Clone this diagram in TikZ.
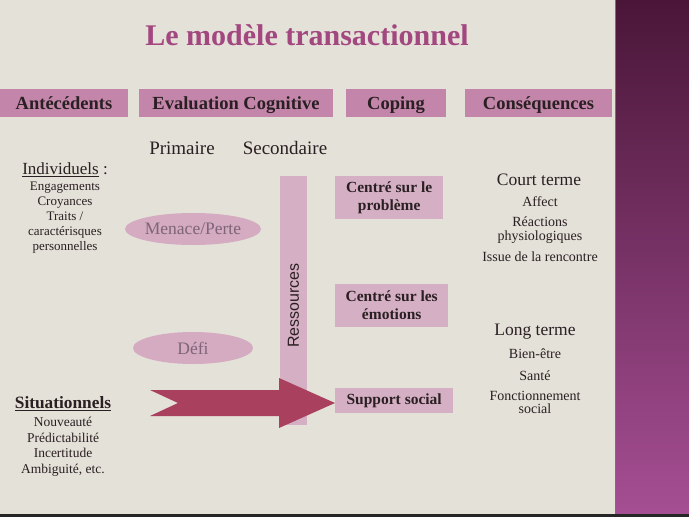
\documentclass[tikz,border=0pt]{standalone}
\usepackage{fontspec}
\setmainfont{Liberation Serif}
\setsansfont{Liberation Sans}
\usepackage{tikz}
\usetikzlibrary{positioning,calc,shapes.geometric}
\definecolor{slidebg}{HTML}{E4E1D8}
\definecolor{titlepink}{HTML}{A2477F}
\definecolor{headpink}{HTML}{C386AA}
\definecolor{softpink}{HTML}{D5B0C4}
\definecolor{ovalpink}{HTML}{D4ABC1}
\definecolor{ovalink}{HTML}{7E6577}
\definecolor{arrowred}{HTML}{A8405E}
\definecolor{inkdark}{HTML}{2A1F22}
\definecolor{stripdark}{HTML}{4A1638}
\definecolor{striplight}{HTML}{A64F94}
\newcommand{\fs}[1]{\fontsize{#1}{#1}\selectfont}
\tikzset{
  headbox/.style={fill=headpink,minimum height=28pt,inner sep=0pt,text=inkdark,
                  text height=14pt,text depth=1pt,font=\fs{18.5}\bfseries,minimum width=#1},
  headbox/.default=128pt,
  copingbox/.style={fill=softpink,inner sep=0pt,text=inkdark,align=center,anchor=west,
                    font=\fontsize{15.5}{18}\selectfont\bfseries,minimum width=#1},
  copingbox/.default=108pt,
  oval/.style={ellipse,fill=ovalpink,inner sep=0pt,minimum width=120pt,minimum height=32pt,
               text=ovalink,font=\fs{17.5}},
  subhead/.style={text=inkdark,font=\fs{19},inner sep=0pt},
  itemlist/.style={text=inkdark,align=center,inner sep=0pt,font=\fontsize{14}{15}\selectfont},
}
\begin{document}
\begin{tikzpicture}[x=1pt,y=-1pt]
  \useasboundingbox (0,0) rectangle (689,517);
  % slide and side strip
  \fill[slidebg] (0,0) rectangle (615,517);
  \shade[top color=stripdark,bottom color=striplight] (615,0) rectangle (689,517);
  \draw[black!55,line width=1pt] (615,0) -- (615,517);
  \fill[black!85] (0,514) rectangle (689,517);
  \node[text=titlepink,font=\fs{30}\bfseries,inner sep=0pt] (title) at (307,35) {Le modèle transactionnel};
  % column headers
  \node[headbox=128pt] (antec) at (64,103) {Antécédents};
  \node[headbox=194pt] (evalc) at (236,103) {Evaluation Cognitive};
  \node[headbox=100pt] (coping) at (396,103) {Coping};
  \node[headbox=147pt] (conseq) at (538.5,103) {Conséquences};
  \node[subhead] (prim) at (182,148) {Primaire};
  \node[subhead] (second) at (285,148) {Secondaire};
  % antecedents
  \node[subhead,font=\fs{17}] (indiv) at (65,170) {\underline{Individuels} :};
  \node[itemlist,font=\fontsize{13}{15}\selectfont,below=5pt of indiv] (indivlist) {Engagements\\ Croyances\\ Traits /\\ caractérisques\\ personnelles};
  \node[subhead,font=\fs{17.3}\bfseries] (situ) at (63,404) {\underline{Situationnels}};
  \node[itemlist,font=\fontsize{13.5}{15.5}\selectfont,below=6pt of situ] (situlist) {Nouveauté\\ Prédictabilité\\ Incertitude\\ Ambiguité, etc.};
  % appraisal
  \node[oval] (menace) at (193,229) {Menace/Perte};
  \node[oval] (defi) at (193,348) {Défi};
  \node[fill=softpink,minimum width=249pt,minimum height=27pt,inner sep=0pt,rotate=90,
        text=inkdark,font=\sffamily\fs{16}] (ress) at (293.5,300.5) {Ressources\hspace*{10pt}};
  % coping
  \node[copingbox=108pt,minimum height=43pt] (probleme) at (335,197.5) {Centré sur le\\ problème};
  \node[copingbox=113pt,minimum height=43pt] (emotions) at (335,305.5) {Centré sur les\\ émotions};
  \node[copingbox=118pt,minimum height=25pt] (support) at (335,400.5) {Support social};
  % big arrow
  \coordinate (tail) at (150,403);
  \coordinate (tip) at (support.west |- tail);
  \fill[arrowred] ($(tail)+(0,-13)$) -- ($(tip)+(-56,-13)$) -- ($(tip)+(-56,-25)$) -- (tip)
    -- ($(tip)+(-56,25)$) -- ($(tip)+(-56,13)$) -- ($(tail)+(0,13)$) -- ($(tail)+(28,0)$) -- cycle;
  % consequences
  \node[subhead,font=\fs{17.5}] (court) at (539,180) {Court terme};
  \node[itemlist] (affect) at (540,202) {Affect};
  \node[itemlist,font=\fontsize{14}{14}\selectfont] (reac) at (540,230) {Réactions\\ physiologiques};
  \node[itemlist] (issue) at (540,257) {Issue de la rencontre};
  \node[subhead,font=\fs{17.5}] (long) at (535,332) {Long terme};
  \node[itemlist] (bien) at (535,354) {Bien-être};
  \node[itemlist] (sante) at (535,376) {Santé};
  \node[itemlist,font=\fontsize{14}{13}\selectfont] (fonct) at (535,402) {Fonctionnement\\ social};
\end{tikzpicture}
\end{document}
